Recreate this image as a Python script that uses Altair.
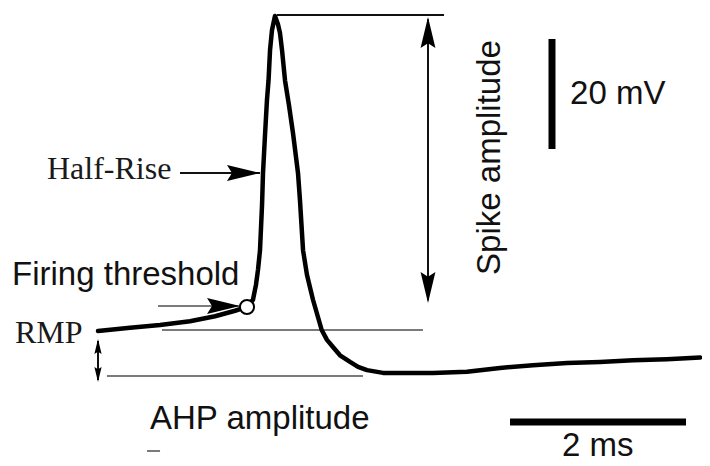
import altair as alt
import pandas as pd

# ---------------- data (time in ms, membrane potential in mV) ----------------
trace_t = [0.000, 0.364, 0.705, 1.045, 1.330, 1.557, 1.693, 1.761, 1.795, 1.818,
           1.841, 1.864, 1.875, 1.898, 1.920, 1.938, 1.955, 1.977, 2.011, 2.045,
           2.068, 2.091, 2.125, 2.170, 2.216, 2.273, 2.295, 2.330, 2.375, 2.443,
           2.542, 2.602, 2.670, 2.750, 2.864, 2.955, 3.057, 3.239, 3.807, 4.193,
           4.568, 4.943, 5.330, 5.705, 6.080, 6.466, 6.841]
trace_v = [-65.2, -64.6, -64.1, -63.4, -62.5, -61.5, -60.8, -59.5, -56.8, -54.1,
           -50.5, -42.3, -36.5, -29.5, -23.2, -19.6, -14.1, -10.5, -7.9, -9.4,
           -11.0, -14.1, -19.6, -24.1, -29.2, -36.5, -41.4, -50.5, -55.0, -59.5,
           -65.0, -66.8, -68.1, -69.6, -70.8, -71.7, -72.3, -72.8, -72.8, -72.6,
           -71.9, -71.4, -71.0, -70.8, -70.5, -70.3, -70.0]

# firing threshold point
thr_t = [1.693]
thr_v = [-60.82]

# black thin guide segments: peak level, spike amplitude shaft, RMP/AHP shaft, half-rise arrow
blk_t = [2.034, 3.750, 0.000, 0.932]
blk_t2 = [3.932, 3.750, 0.000, 1.841]
blk_v = [-7.73, -8.5, -67.0, -36.45]
blk_v2 = [-7.73, -59.6, -74.1, -36.45]

# gray guide segments: RMP level, AHP level, firing-threshold arrow, stray mark
gry_t = [0.727, 0.102, 0.682, 0.557]
gry_t2 = [3.693, 3.011, 1.600, 0.705]
gry_v = [-65.0, -73.36, -60.64, -87.0]

# scale bars: 20 mV (vertical) and 2 ms (horizontal)
bar_t = [5.159, 4.682]
bar_t2 = [5.159, 6.682]
bar_v = [-12.09, -81.73]
bar_v2 = [-32.09, -81.73]

# arrow tips
big_up_t, big_up_v = [3.750], [-8.09]
big_dn_t, big_dn_v = [3.750], [-60.09]
sml_up_t, sml_up_v = [0.000], [-66.64]
sml_dn_t, sml_dn_v = [0.000], [-74.45]
rgt_t, rgt_v = [1.614, 1.841], [-60.64, -36.45]

# labels
sans_labels = ["Firing threshold", "20 mV", "AHP amplitude", "2 ms"]
sans_t = [-0.977, 5.364, 0.591, 5.273]
sans_v = [-56.82, -23.91, -83.0, -87.91]

serif_labels = ["Half-Rise", "RMP"]
serif_t = [-0.580, -0.943]
serif_v = [-37.55, -67.36]

rot_labels = ["Spike amplitude"]
rot_t = [4.568]
rot_v = [-33.64]

# ---------------- layout ----------------
W, H = 694, 450
PX_MS, PX_MV = 88.0, 5.5
X0, Y0 = 90.0, 322.0   # chart pixel of (0 ms, -65 mV)
xdom = [-X0 / PX_MS, (W - X0) / PX_MS]
ydom = [-65 - (H - Y0) / PX_MV, -65 + Y0 / PX_MV]
xs = alt.Scale(domain=xdom, nice=False, zero=False)
ys = alt.Scale(domain=ydom, nice=False, zero=False)

def X(f):
    return alt.X(f"{f}:Q", scale=xs, axis=None)

def Y(f):
    return alt.Y(f"{f}:Q", scale=ys, axis=None)

ARROW = "M0,0 L0.48,2 L0,1.7 L-0.48,2 Z"

trace = alt.Chart(pd.DataFrame({"t": trace_t, "v": trace_v})).mark_line(
    color="#000000", strokeWidth=4.5, interpolate="linear",
    strokeCap="round", strokeJoin="round"
).encode(x=X("t"), y=Y("v"), order="t:Q")

black_rules = alt.Chart(pd.DataFrame({"t": blk_t, "t2": blk_t2, "v": blk_v, "v2": blk_v2})).mark_rule(
    color="#111111", strokeWidth=2
).encode(x=X("t"), x2="t2:Q", y=Y("v"), y2="v2:Q")

gray_rules = alt.Chart(pd.DataFrame({"t": gry_t, "t2": gry_t2, "v": gry_v})).mark_rule(
    color="#7a7a7a", strokeWidth=2
).encode(x=X("t"), x2="t2:Q", y=Y("v"))

bars = alt.Chart(pd.DataFrame({"t": bar_t, "t2": bar_t2, "v": bar_v, "v2": bar_v2})).mark_rule(
    color="#000000", strokeWidth=7
).encode(x=X("t"), x2="t2:Q", y=Y("v"), y2="v2:Q")

def heads(ts, vs, size, angle):
    return alt.Chart(pd.DataFrame({"t": ts, "v": vs})).mark_point(
        shape=ARROW, size=size, angle=angle, filled=True, color="#000000", opacity=1
    ).encode(x=X("t"), y=Y("v"))

h1 = heads(big_up_t, big_up_v, 961, 0)
h2 = heads(big_dn_t, big_dn_v, 961, 180)
h3 = heads(sml_up_t, sml_up_v, 225, 0)
h4 = heads(sml_dn_t, sml_dn_v, 225, 180)
h5 = heads(rgt_t, rgt_v, 1089, 90)

circle = alt.Chart(pd.DataFrame({"t": thr_t, "v": thr_v})).mark_point(
    shape="circle", size=200, filled=True, fill="white", stroke="black",
    strokeWidth=2, opacity=1, fillOpacity=1
).encode(x=X("t"), y=Y("v"))

sans = alt.Chart(pd.DataFrame({"t": sans_t, "v": sans_v, "label": sans_labels})).mark_text(
    align="left", baseline="alphabetic", font="Liberation Sans", fontSize=33, color="#111111"
).encode(x=X("t"), y=Y("v"), text="label:N")

serif = alt.Chart(pd.DataFrame({"t": serif_t, "v": serif_v, "label": serif_labels})).mark_text(
    align="left", baseline="alphabetic", font="Liberation Serif", fontSize=32, color="#1a1a1a"
).encode(x=X("t"), y=Y("v"), text="label:N")

rot = alt.Chart(pd.DataFrame({"t": rot_t, "v": rot_v, "label": rot_labels})).mark_text(
    align="center", baseline="alphabetic", font="Liberation Sans", fontSize=33,
    color="#111111", angle=270
).encode(x=X("t"), y=Y("v"), text="label:N")

chart = alt.layer(
    gray_rules, black_rules, bars, trace, h1, h2, h3, h4, h5, circle, sans, serif, rot
).properties(
    width=W, height=H, padding=0,
    autosize=alt.AutoSizeParams(type="none"),
    background="white"
).configure_view(stroke=None)

chart.save("out.html", embed_options={"renderer": "svg", "actions": False})
